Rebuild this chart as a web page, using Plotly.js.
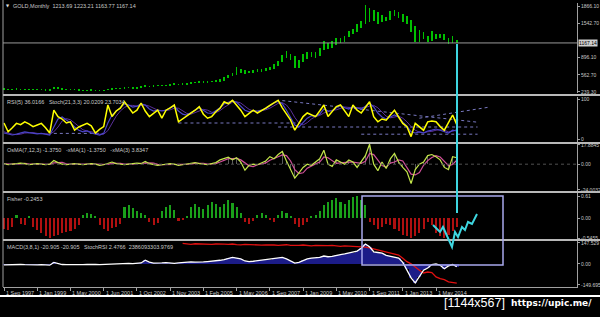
<!DOCTYPE html>
<html><head><meta charset="utf-8">
<script src="https://cdn.plot.ly/plotly-3.0.1.min.js"></script>
<style>html,body{margin:0;padding:0;background:#000;overflow:hidden}#chart{width:600px;height:317px}</style>
</head><body><div id="chart"></div>
<script>
// ---- data (one point per two monthly bars) ----
const priceLow=[280,276,278,284,280,275,271,277,281,273,
265,260,288,292,283,277,273,271,267,263,
265,267,263,260,263,270,286,290,295,305,
310,300,305,316,336,330,335,345,350,345,
355,370,365,375,380,390,400,415,410,415,
420,425,435,455,500,540,560,600,580,590,
600,610,620,640,660,680,730,800,880,850,
700,690,800,860,900,880,920,1040,1060,1080,
1120,1160,1180,1280,1330,1380,1450,1520,1560,1580,
1530,1570,1590,1600,1680,1640,1560,1520,1380,1180,
1190,1250,1180,1210,1240,1260,1230,1140,1170,1163.77];
const priceHigh=[308,303,301,308,303,299,295,301,303,297,
293,288,335,330,308,301,295,293,288,283,
285,289,285,281,283,303,313,318,323,333,
338,328,333,358,363,358,368,378,378,373,
388,408,398,408,413,428,433,448,443,448,
453,463,483,520,560,600,720,680,650,640,
650,665,680,690,720,760,830,930,1010,960,
920,850,960,990,1000,990,1080,1200,1160,1200,
1260,1270,1300,1400,1430,1520,1580,1880,1820,1790,
1760,1700,1660,1780,1790,1760,1720,1680,1600,1480,
1420,1370,1300,1390,1345,1340,1330,1260,1300,1223.21];
const rsi=[40,18,28,39,36,43,38,31,35,39,28,15,72,56,50,40,43,22,30,35,
39,33,15,24,31,85,56,70,77,93,80,65,72,90,70,56,64,72,52,72,
78,85,43,50,56,65,72,81,62,52,56,68,77,93,88,97,85,72,56,64,
72,65,70,77,84,90,97,78,62,47,22,40,56,65,60,56,70,85,56,68,
81,85,70,56,85,72,65,80,93,56,43,50,47,60,72,55,39,31,6,39,
30,22,43,45,43,31,22,40,60,36.0166];
const stochMain=[15,12,10,12,15,18,16,14,13,14,12,10,
30,50,55,48,40,
30,22,18,20,15,12,10,14,
40,60,70,80,88,85,80,82,88,85,
75,70,72,70,72,78,82,70,62,60,65,72,78,72,65,64,
70,78,88,92,95,92,
82,72,68,70,70,72,76,84,90,94,
88,72,55,35,30,40,
52,58,58,62,75,70,70,78,84,78,75,80,78,75,82,90,
80,65,55,50,55,60,55,42,32,18,15,18,15,20,22,25,22,18,15,22,20.0209];
const stochSignal=[18,15,12,11,12,15,16,16,14,14,13,12,
18,30,45,51,48,
40,31,23,20,18,16,12,12,
21,38,57,70,79,84,84,82,83,85,
82,77,72,71,71,73,77,77,71,64,62,66,72,74,72,67,
66,71,79,86,92,93,
90,82,74,70,69,71,73,77,83,89,
91,85,72,54,40,35,
41,50,56,59,65,69,72,73,77,80,79,78,78,78,79,82,
84,78,67,57,53,55,57,52,43,31,22,17,16,18,19,22,23,22,18,19,23.7034];
const rsiTrendX=[[12,24],[42,71],[67,114],[100,117],[66,114],[86,114]];
const rsiTrendY=[[14,14],[40,40],[96,42],[52,80],[30,30],[12,12]];
const osmaXma1=[0.5,-0.5,0,0.5,1,0.5,-0.5,0,0.5,0,-0.5,0,
3.5,1.5,
0,-0.5,0,0.5,0,-0.5,0,0.5,0,-1,-0.5,0.5,
2,0.5,
0,-0.5,0,0.5,1,0.5,
2.5,0.5,
0,-1,-0.5,0,0.5,0,-1,-0.5,0,0.5,
1.5,0.5,
0,-0.5,0.5,1.5,
4,5,6.5,4,6,2,
-5.6,
-1,0,-0.5,
1,3,7,
5,9,11.8,
3,-5,-13,
-8,-3,0,-1,2,5,
13,
0,-2,4,2,
0,4,2,
-3,
3,8,18.6,
0,-6,2,-4,5,
10,2,-3,-7,-18,-5,0,2,8,9,7,4,-3,-5,7,6];
const osmaXma3=[0.3,0,0,0,0.3,0.7,0.3,0,0,0.2,0,-0.2,
1.2,1.7,
1.7,0.3,-0.2,0,0.2,0,-0.2,0,0.2,-0.2,-0.5,-0.3,
0.7,1,
0.8,0,-0.2,0,0.5,0.7,
1.3,1.2,
1,-0.2,-0.5,-0.5,0,0.2,-0.2,-0.5,-0.5,0,
0.7,0.8,
0.7,0,0,0.5,
2,3.5,5.2,5.2,5.5,4,
0.8,
-1.5,-2.2,-0.5,
0.2,1.2,3.7,
5,7,8.6,
8,3,-5,
-8.7,-8,-3.7,-1.3,0.3,2,
6.7,
6,3.7,0.7,1.3,
2,2,2,
1,
0.7,2.7,9.9,
8.9,4.2,-1.3,-2.7,1,
2,4,3,-2.7,-9.3,-10,-7.7,-1,3.3,6.3,8,6.7,2.7,-1.3,-0.3,3.8347];
const fisher=[-0.3,-0.32,-0.25,0.08,-0.15,-0.2,0.06,-0.25,-0.32,
-0.4,-0.48,-0.55,-0.5,-0.45,-0.4,-0.38,
-0.35,-0.3,-0.2,
0.08,0.14,0.12,0.06,
-0.2,-0.3,-0.35,-0.28,-0.25,-0.15,
0.3,0.35,0.28,0.2,0.15,0.1,
-0.1,-0.2,-0.12,
0.2,0.3,0.35,0.22,
-0.08,-0.05,0.05,
0.3,0.4,0.32,0.25,0.35,0.45,0.38,0.3,0.4,0.5,0.42,0.3,0.15,
-0.1,-0.15,-0.08,0.1,0.15,0.08,-0.05,-0.1,
0.1,0.2,0.15,0.05,-0.15,-0.25,
-0.2,-0.1,0.05,0.1,0.2,
0.35,0.45,0.5,0.55,0.45,0.4,0.5,0.58,0.6,0.5,0.35,
-0.1,-0.2,-0.3,-0.25,-0.15,-0.2,-0.3,-0.35,
-0.45,-0.5,-0.55,-0.5,-0.4,-0.3,
-0.1,-0.2,
-0.4,-0.5,-0.55,-0.45,-0.35,-0.2453];
const macd=[-8,-6,-8,-7,-5,-6,-8,-9,-7,-6,-8,-10,
10,2,
-5,-6,-7,-5,-4,-6,-5,-3,-4,-6,-4,-2,0,-2,-1,2,3,1,4,6,
25,12,
5,4,6,8,5,3,6,10,12,14,12,10,13,16,18,
20,25,30,38,45,40,35,
20,15,18,22,25,28,30,
35,40,45,35,20,5,10,25,
35,40,42,45,55,50,52,60,65,
70,75,80,90,110,140,120,85,
80,75,60,55,50,
40,10,-40,-100,-135,-90,
-45,-30,-5,0,-10,-35,-15,-5,-20.905];
const stochRsiStart=43;
const stochRsi=[145,140,138,142,140,143,141,138,140,142,
139,137,140,136,134,138,136,133,135,132,
134,136,133,130,132,135,131,128,130,133,
129,127,130,128,125,128,130,126,124,127,
125,122,124,
120,118,112,105,100,95,88,80,72,62,
40,15,0,-25,-45,-65,-58,-62,-93,-105,
-112,-128,-130,-136];
const timeTickPos=[0,8,16,24,32,40,48,56,64,72,80,88,96,104];
const timeTickLabels=['1 Sep 1997','1 Jan 1999','1 May 2000','1 Jun 2001','1 Oct 2002','1 Nov 2003','1 Feb 2005','1 May 2006','1 Sep 2007','1 Jan 2009','1 May 2010','1 Sep 2011','1 Jan 2013','1 May 2014'];
const priceTicks=[1866.10,1542.70,896.10,562.70,239.30];
const priceTickText=['1866.10','1542.70','896.10','562.70','239.30'];
const rsiTicks=[100,0];
const rsiTickText=['100','0'];
const osmaTicks=[17.8845,0,-24.0032];
const osmaTickText=['17.8845','0.00','-24.0032'];
const fisherTicks=[0.61,0,-0.5455];
const fisherTickText=['0.61','0.00','-0.5455'];
const macdTicks=[147.529,0,-149.695];
const macdTickText=['147.529','0.00','-149.695'];
const lastPrice=1167.14;

// ---- helpers ----
const W=600,H=317;
const px=x=>x/W, py=y=>1-y/H;
const idx=priceLow.map((_,i)=>i);
const FONT='Liberation Sans, Arial, sans-serif';
const TXT='#c8c8c8', AX='#a0a0a0';

const traces=[];
traces.push({type:'bar',x:idx,base:priceLow,y:priceHigh.map((h,i)=>h-priceLow[i]),width:0.4,
  marker:{color:'#00c000',line:{width:0}},xaxis:'x',yaxis:'y',hoverinfo:'skip'});
rsiTrendX.forEach((tx,i)=>traces.push({type:'scatter',mode:'lines',x:tx,y:rsiTrendY[i],
  line:{color:'#7878c0',width:1,dash:'dot'},xaxis:'x',yaxis:'y2',hoverinfo:'skip'}));
traces.push({type:'scatter',mode:'lines',x:idx,y:stochSignal,line:{color:'#5a2f9a',width:1},xaxis:'x',yaxis:'y2',hoverinfo:'skip'});
traces.push({type:'scatter',mode:'lines',x:idx,y:stochMain,line:{color:'#4a44c8',width:1.2},xaxis:'x',yaxis:'y2',hoverinfo:'skip'});
traces.push({type:'scatter',mode:'lines',x:idx,y:rsi,line:{color:'#ffff00',width:1.5},xaxis:'x',yaxis:'y2',hoverinfo:'skip'});
traces.push({type:'bar',x:idx,y:osmaXma1,width:0.15,marker:{color:'#5a5a5a',line:{width:0}},xaxis:'x',yaxis:'y3',hoverinfo:'skip'});
traces.push({type:'scatter',mode:'lines',x:idx,y:osmaXma3,line:{color:'#d0509a',width:1.2},xaxis:'x',yaxis:'y3',hoverinfo:'skip'});
traces.push({type:'scatter',mode:'lines',x:idx,y:osmaXma1,line:{color:'#c4e64a',width:1.2},xaxis:'x',yaxis:'y3',hoverinfo:'skip'});
traces.push({type:'bar',x:idx,y:fisher.map(v=>v>0?v:0),width:0.5,marker:{color:'#1aa01a',line:{width:0}},xaxis:'x',yaxis:'y4',hoverinfo:'skip'});
traces.push({type:'bar',x:idx,y:fisher.map(v=>v<0?v:0),width:0.5,marker:{color:'#b01010',line:{width:0}},xaxis:'x',yaxis:'y4',hoverinfo:'skip'});
traces.push({type:'bar',x:idx,y:macd,width:1,marker:{color:'#1c1c88',line:{width:0}},xaxis:'x',yaxis:'y5',hoverinfo:'skip'});
traces.push({type:'scatter',mode:'lines',x:stochRsi.map((_,i)=>i+stochRsiStart),y:stochRsi,line:{color:'#e01010',width:1.3},xaxis:'x',yaxis:'y5',hoverinfo:'skip'});
traces.push({type:'scatter',mode:'lines',x:idx,y:macd,line:{color:'#ffffff',width:1.3},xaxis:'x',yaxis:'y5',hoverinfo:'skip'});

function yax(top,bot,range,ticks,text){
  return {domain:[py(bot),py(top)],range:range,side:'right',anchor:'x',showgrid:false,zeroline:false,
    showline:true,linecolor:AX,linewidth:1,ticks:'outside',ticklen:2,tickcolor:AX,ticklabelstandoff:0,
    tickvals:ticks,ticktext:text,tickfont:{family:FONT,size:5,color:TXT},fixedrange:true};
}
const layout={width:W,height:H,margin:{l:0,r:0,t:0,b:0},paper_bgcolor:'#000',plot_bgcolor:'#000',
  showlegend:false,barmode:'overlay',bargap:0,
  xaxis:{domain:[px(3),px(577)],range:[-0.24,137.94],anchor:'y5',showgrid:false,zeroline:false,
    showline:true,linecolor:AX,linewidth:1,ticks:'outside',ticklen:3,tickcolor:AX,tickvals:timeTickPos,
    showticklabels:false,fixedrange:true},
  yaxis:yax(3,93,[220.1,1922.9],priceTicks,priceTickText),
  yaxis2:yax(97,142,[-7.5,105],rsiTicks,rsiTickText),
  yaxis3:yax(144,191,[-24.95,18.8],osmaTicks,osmaTickText),
  yaxis4:yax(193,239,[-0.572,0.693],fisherTicks,fisherTickText),
  yaxis5:yax(241,287,[-164.2,161.4],macdTicks,macdTickText),
  shapes:[],annotations:[]};

const S=layout.shapes, A=layout.annotations;
S.push({type:'line',xref:'paper',yref:'paper',x0:px(3),x1:px(3),y0:py(0),y1:py(287),line:{color:AX,width:1}});
[95,143,192,240].forEach(y=>S.push({type:'line',xref:'paper',yref:'paper',x0:px(3),x1:1,y0:py(y),y1:py(y),line:{color:'#b8b8b8',width:2}}));
S.push({type:'line',xref:'paper',yref:'paper',x0:0,x1:1,y0:py(296),y1:py(296),line:{color:'#ffffff',width:2}});
S.push({type:'line',xref:'paper',yref:'y',x0:px(3),x1:px(577),y0:lastPrice,y1:lastPrice,line:{color:'#9a9a9a',width:1}});
S.push({type:'line',xref:'paper',yref:'y3',x0:px(3),x1:px(577),y0:0,y1:0,line:{color:'#505050',width:1,dash:'dot'}});
// hand-drawn markup (screen positions)
S.push({type:'rect',xref:'paper',yref:'paper',x0:px(362),x1:px(503),y0:py(265),y1:py(196),line:{color:'#a8a8ec',width:1.5}});
S.push({type:'line',xref:'paper',yref:'paper',x0:px(457),x1:px(457),y0:py(44),y1:py(213),line:{color:'#3ed6e0',width:2}});
const zig=[[433,225],[440,232],[443,227],[452,247],[455,232],[458,237],[462,227],[465,230],[468,222],[472,224],[477,214]];
S.push({type:'path',xref:'paper',yref:'paper',path:zig.map((p,i)=>(i?'L':'M')+px(p[0])+','+py(p[1])).join(' '),line:{color:'#3ed6e0',width:2}});

function note(x,y,text,opt){A.push(Object.assign({xref:'paper',yref:'paper',x:px(x),y:py(y),text:text,showarrow:false,
  xanchor:'left',yanchor:'top',font:{family:FONT,size:5.5,color:TXT}},opt||{}));}
note(4,1,'▼',{font:{family:'DejaVu Sans',size:4,color:'#e0e0e0'}});
note(11,1,'GOLD,Monthly  1213.69 1223.21 1163.77 1167.14');
note(5,97,'RSI(5) 36.0166   Stoch(21,3,3) 20.0209 23.7034');
note(5,145,'OsMA(7,12,3) -1.3750   -xMA(1) -1.3750   -xMA(3) 3.8347');
note(5,194,'Fisher -0.2453');
note(5,242,'MACD(3,8,1) -20.905 -20.905   StochRSI 2.4766  2386093303.9769');
A.push({xref:'paper',yref:'y',x:px(578),y:lastPrice,text:'1167.14',showarrow:false,xanchor:'left',yanchor:'middle',
  bgcolor:'#d0d0d0',borderpad:0,font:{family:FONT,size:5,color:'#000'}});
timeTickPos.forEach((t,i)=>A.push({xref:'x',yref:'paper',x:t,y:py(288),text:timeTickLabels[i],showarrow:false,
  xanchor:'left',yanchor:'top',font:{family:FONT,size:5.5,color:TXT}}));
A.push({xref:'paper',yref:'paper',x:px(507),y:py(303),text:'[1144x567]',showarrow:false,xanchor:'right',yanchor:'middle',
  font:{family:'Liberation Sans, Arial',size:12.5,color:'#ffffff'}});
A.push({xref:'paper',yref:'paper',x:px(509),y:py(303),text:'<b>https://upic.me/</b>',showarrow:false,xanchor:'left',yanchor:'middle',
  font:{family:'DejaVu Sans',size:9,color:'#ffffff'}});

Plotly.newPlot('chart',traces,layout,{staticPlot:true,displayModeBar:false});
</script></body></html>
